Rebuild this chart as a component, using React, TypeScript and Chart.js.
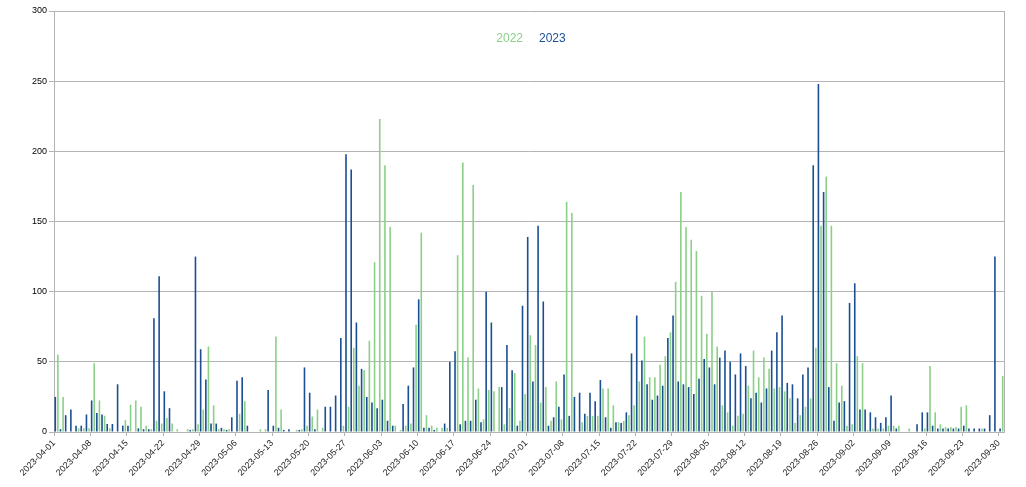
import React, { useEffect, useRef } from 'react';
import Chart from 'chart.js/auto';

// Catégories : un jour par barre, du 2023-04-01 au 2023-09-30
const firstDay = Date.UTC(2023, 3, 1);
const dayCount = 183;
const dates: string[] = Array.from({ length: dayCount }, (_, i) =>
  new Date(firstDay + i * 86400000).toISOString().slice(0, 10)
);

const seriesNames = ['2022', '2023'];

const values2022 = [
  55, 25, 0, 0, 2.6, 2.6, 2.6, 49, 22.5, 11.6, 2.6, 0, 0, 8.5, 19.5, 22.5, 18, 4.5, 2, 8,
  6, 10, 6, 2, 0, 2, 2, 5.5, 16, 61, 19, 2, 2, 2, 0, 13, 22, 0, 0, 2,
  2, 0, 68, 16, 0, 0, 1.5, 2, 4.5, 11, 16, 3, 0, 0, 0, 4.5, 18, 60, 33, 44,
  65, 121, 223, 190, 146, 4.5, 1.5, 4.5, 6, 76.5, 142, 12, 4.5, 3, 3, 3, 0, 126, 192, 53,
  176, 31, 9, 30, 29, 32, 5.5, 17, 42, 8, 27, 69, 62, 21, 32, 8, 36, 9, 164, 156,
  0, 7, 11.5, 11.5, 11.5, 31, 31, 19, 7, 8, 12, 19, 36, 68, 39, 39, 48, 54, 71, 107,
  171, 146, 137, 129, 97, 70, 100, 61, 19, 14, 4.5, 11.5, 13, 33, 58, 39, 53, 45, 31, 32,
  29, 24, 6.5, 12, 18, 24, 60, 147, 182, 147, 49, 33, 4.5, 5.5, 54, 49, 1.5, 2.5, 2.5, 2.5,
  4.5, 4.5, 4.5, 0, 2.5, 0, 0, 2.5, 47, 14, 5.5, 3.5, 3.5, 3.5, 18, 19, 0, 0, 2.5, 0,
  0, 0, 40,
];

const values2023 = [
  25, 2, 12, 16, 4.5, 4.5, 12.5, 22.5, 13.5, 12.5, 5.7, 5.7, 34, 4.5, 4.5, 0, 2.6, 2, 2, 81,
  111, 29, 17, 0, 0, 0, 1.5, 125, 59, 37.5, 6, 6, 3, 1.5, 10.5, 36.5, 39, 4.5, 0, 0,
  0, 30, 4.5, 3, 1.5, 2, 0, 1.5, 46, 28, 2, 0, 18, 18, 26, 67, 198, 187, 78, 45,
  25, 21, 17, 23, 8, 4.5, 0, 20, 33, 46, 94.5, 3, 3, 1.5, 0, 6, 50, 57.5, 5.5, 8,
  8, 23, 7, 100, 78, 0, 32, 62, 44, 4.5, 90, 139, 36, 147, 93, 4.5, 10.5, 18, 41, 11.5,
  25, 28, 13, 28, 22, 37, 10.5, 3, 7, 6.5, 14, 56, 83, 51, 34, 23, 26, 33, 67, 83,
  36, 34, 32, 27, 38, 52, 46, 34, 53, 58, 50, 41, 56, 47, 24, 28, 21, 31, 58, 71,
  83, 35, 34, 24, 41, 46, 190, 248, 171, 32, 8, 21, 22, 92, 106, 16, 16, 14, 10.5, 6.5,
  10.5, 26, 2.5, 0, 0, 0, 5.5, 14, 14, 4.5, 2.5, 2.5, 2.5, 2.5, 2.5, 4.5, 2.5, 2.5, 2.5, 2.5,
  12, 125, 2.5,
];

const yMin = 0;
const yMax = 300;
const yStep = 50;
const labelEvery = 7;

const GREEN = '#8bd088';
const BLUE = '#1b4f93';
const AXIS = '#b3b3b3';

// Cadre du graphique (bord droit) et légende posée dans la zone de tracé
const framePlugin = {
  id: 'frame',
  afterDraw(chart: any) {
    const { ctx, chartArea } = chart;
    ctx.save();
    ctx.strokeStyle = AXIS;
    ctx.lineWidth = 1;
    ctx.beginPath();
    ctx.moveTo(Math.round(chartArea.right) + 0.5, chartArea.top);
    ctx.lineTo(Math.round(chartArea.right) + 0.5, chartArea.bottom);
    ctx.stroke();
    ctx.restore();
  },
};

const legendPlugin = {
  id: 'insideLegend',
  afterDraw(chart: any) {
    const { ctx, chartArea } = chart;
    const gap = 16;
    ctx.save();
    ctx.font = "12px 'Liberation Sans', Arial, sans-serif";
    ctx.textBaseline = 'alphabetic';
    ctx.textAlign = 'left';
    const widths = seriesNames.map(n => ctx.measureText(n).width);
    const total = widths.reduce((a, b) => a + b, 0) + gap * (widths.length - 1);
    let x = (chartArea.left + chartArea.right) / 2 - total / 2 + 2;
    chart.data.datasets.forEach((ds: any, i: number) => {
      ctx.fillStyle = ds.backgroundColor;
      ctx.fillText(ds.label, x, 41.5);
      x += widths[i] + gap;
    });
    ctx.restore();
  },
};

const App: React.FC = () => {
  const canvasRef = useRef<HTMLCanvasElement>(null);

  useEffect(() => {
    if (!canvasRef.current) return;
    Chart.defaults.font.family = "'Liberation Sans', Arial, sans-serif";

    const chart = new Chart(canvasRef.current, {
      type: 'bar',
      data: {
        labels: dates,
        datasets: [
          {
            label: seriesNames[0],
            data: values2022,
            backgroundColor: GREEN,
            order: 2,
            barPercentage: 0.62,
            categoryPercentage: 1,
          },
          {
            label: seriesNames[1],
            data: values2023,
            backgroundColor: BLUE,
            order: 1,
            barPercentage: 0.62,
            categoryPercentage: 1,
          },
        ],
      },
      options: {
        animation: false,
        responsive: true,
        maintainAspectRatio: false,
        layout: { padding: { top: 11, right: 22, left: 0, bottom: 0 } },
        scales: {
          x: {
            offset: true,
            grid: {
              offset: true,
              drawOnChartArea: false,
              tickLength: 4,
              color: (c: any) => (c.index % labelEvery === 0 ? AXIS : 'rgba(0,0,0,0)'),
            },
            border: { color: AXIS },
            ticks: {
              autoSkip: false,
              minRotation: 45,
              maxRotation: 45,
              labelOffset: -2.6,
              padding: 2,
              color: '#222',
              font: { size: 9 },
              callback: (_v: any, i: number) => (i % labelEvery === 0 ? dates[i] : ''),
            },
            afterFit: (s: any) => {
              s.height = 55;
            },
          },
          y: {
            min: yMin,
            max: yMax,
            ticks: { stepSize: yStep, padding: 2, color: '#000', font: { size: 9 } },
            grid: { color: AXIS, tickLength: 5 },
            border: { color: AXIS },
            afterFit: (s: any) => {
              s.width = 54;
            },
          },
        },
        plugins: {
          legend: { display: false },
          tooltip: { enabled: false },
        },
      },
      plugins: [framePlugin, legendPlugin],
    });

    return () => {
      chart.destroy();
    };
  }, []);

  return (
    <div style={{ position: 'absolute', left: 0, top: 0, width: 1026, height: 487, background: '#fff' }}>
      <canvas ref={canvasRef}></canvas>
    </div>
  );
};

export default App;
